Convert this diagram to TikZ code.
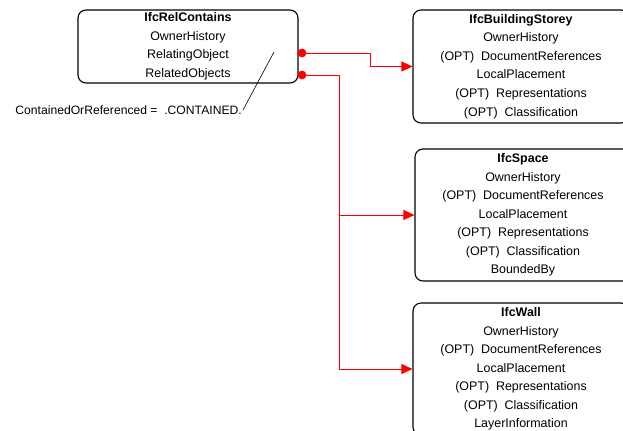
\documentclass[tikz,border=0pt]{standalone}
\usepackage{fontspec}
\setmainfont{Liberation Sans}
\usetikzlibrary{arrows.meta}
\begin{document}
\begin{tikzpicture}[x=1bp,y=-1bp]
			\tikzstyle{entity} = [draw=black, line width=1.1bp, rounded corners=8bp, align=center, inner sep=0, font=\fontsize{12.5}{18.6}\selectfont]
			\tikzstyle{conn} = [draw=red, line width=0.8bp, -{Triangle[length=11bp,width=10bp]}]
			\tikzstyle{dot} = [circle, fill=red, inner sep=0, minimum size=8.5bp]
			\useasboundingbox (0,0) rectangle (623,430);
			\clip (0,0) rectangle (623,430);
			\node [entity, minimum width=220bp, minimum height=73bp] (rel) at (188,46.5) {\textbf{IfcRelContains}\\OwnerHistory\\RelatingObject\\RelatedObjects};
			\node [entity, minimum width=216bp, minimum height=113bp] (storey) at (521,66.5) {\textbf{IfcBuildingStorey}\\OwnerHistory\\(OPT)\ \ DocumentReferences\\LocalPlacement\\(OPT)\ \ Representations\\(OPT)\ \ Classification};
			\node [entity, minimum width=216bp, minimum height=132bp] (space) at (523,215) {\textbf{IfcSpace}\\OwnerHistory\\(OPT)\ \ DocumentReferences\\LocalPlacement\\(OPT)\ \ Representations\\(OPT)\ \ Classification\\BoundedBy};
			\node [entity, minimum width=216bp, minimum height=132bp] (wall) at (521,369) {\textbf{IfcWall}\\OwnerHistory\\(OPT)\ \ DocumentReferences\\LocalPlacement\\(OPT)\ \ Representations\\(OPT)\ \ Classification\\LayerInformation};
			\node [dot] (relating) at (302,53) {};
			\node [dot] (related) at (302,75) {};
			\node [anchor=east, inner sep=1bp, font=\fontsize{12.2}{14}\selectfont] (note) at (243,110) {ContainedOrReferenced =\ \ .CONTAINED.};
			\coordinate (pointer) at (274,52);
			\draw [line width=0.6bp] (pointer) -- (note.east);
			\draw [conn] (relating.center) -- ([xshift=-42bp]storey.west |- relating) |- (storey.west);
			\draw [conn] (related.center) -- ([xshift=-73bp]wall.west |- related) |- (wall.west);
			\draw [conn] ([xshift=-75bp]space.west) -- (space.west);
			\node [dot] at (relating) {};
			\node [dot] at (related) {};
\end{tikzpicture}
\end{document}
